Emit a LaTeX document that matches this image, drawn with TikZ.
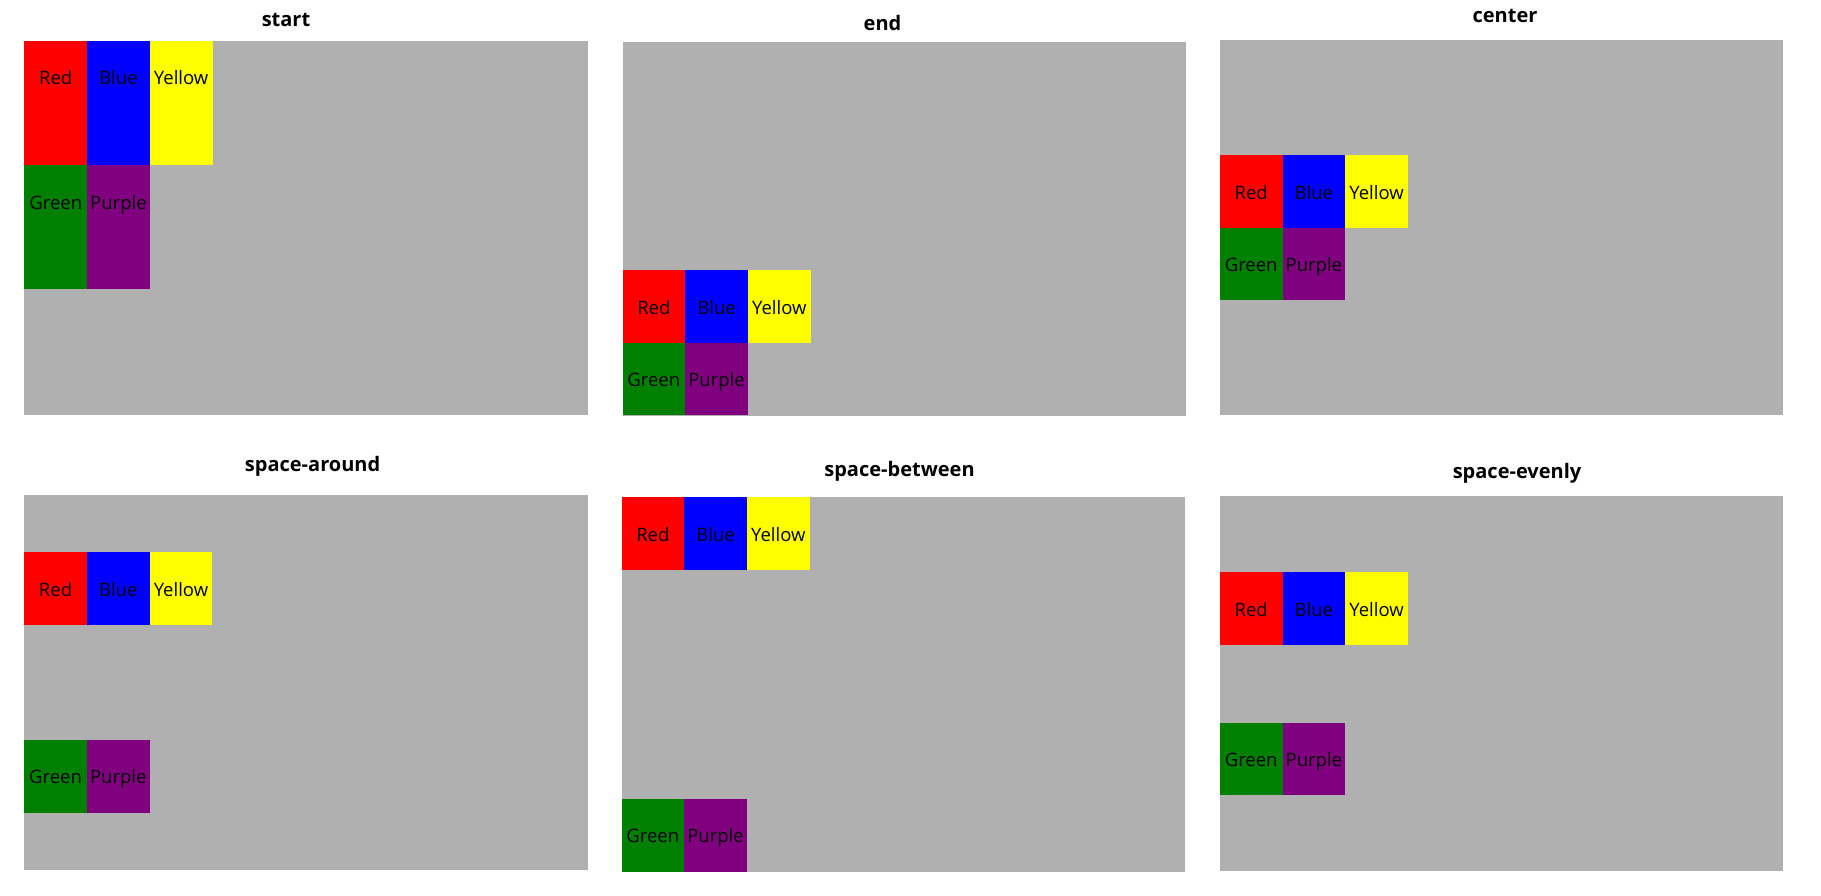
\documentclass[tikz,border=0pt]{standalone}
\usepackage{fontspec}
\setmainfont{Open Sans}
\usetikzlibrary{positioning}

\definecolor{boxgrey}{RGB}{176,176,176}
\definecolor{cssred}{RGB}{255,0,0}
\definecolor{cssblue}{RGB}{0,0,255}
\definecolor{cssyellow}{RGB}{255,255,0}
\definecolor{cssgreen}{RGB}{0,128,0}
\definecolor{csspurple}{RGB}{128,0,128}

\tikzset{
  panel/.style={fill=boxgrey, inner sep=0pt, outer sep=0pt, anchor=north west,
                minimum width=563.5pt, minimum height=374.5pt},
  item/.style={fill=#1, inner sep=0pt, outer sep=0pt, anchor=north west,
               minimum width=62.7pt, text height=44pt, text depth=28.7pt,
               font=\fontsize{18.5}{20}\selectfont},
  ptitle/.style={font=\bfseries\fontsize{20}{24}\selectfont}
}

\begin{document}
\begin{tikzpicture}[x=1pt, y=-1pt]
        \useasboundingbox (0,0) rectangle (1821,895);

        % 1. One panel per justify mode: box, title, then the two rows of items
        %    name / box x / box y / title x / title y / title / first row y / row gap / item depth
        \foreach \pn/\bx/\by/\tx/\ty/\ttl/\rowy/\gap/\dpt in {
            start/24.4/40.6/286/19.6/start/40.6/0pt/80.4pt,
            end/622.5/41.5/882.5/23/end/270/0pt/28.7pt,
            center/1219.8/40.2/1505/16/center/155/0pt/28.7pt,
            around/24.2/495/312.6/466/space-around/552.3/114.9pt/28.7pt,
            between/621.5/497/899.5/471/space-between/497/229.1pt/28.7pt,
            evenly/1219.8/496/1517/473.3/space-evenly/572.4/77.4pt/28.7pt}
        {
            \node[panel] (\pn-box) at (\bx,\by) {};
            \node[ptitle] (\pn-title) at (\tx,\ty) {\ttl};

            % first row
            \node[item=cssred, text depth=\dpt] (\pn-red) at (\bx,\rowy) {Red};
            \node[item=cssblue, text depth=\dpt, right=0pt of \pn-red] (\pn-blue) {Blue};
            \node[item=cssyellow, text depth=\dpt, right=0pt of \pn-blue] (\pn-yellow) {Yellow};

            % second row
            \node[item=cssgreen, text depth=\dpt, below=\gap of \pn-red] (\pn-green) {Green};
            \node[item=csspurple, text depth=\dpt, right=0pt of \pn-green] (\pn-purple) {Purple};
        }
    \end{tikzpicture}
\end{document}
